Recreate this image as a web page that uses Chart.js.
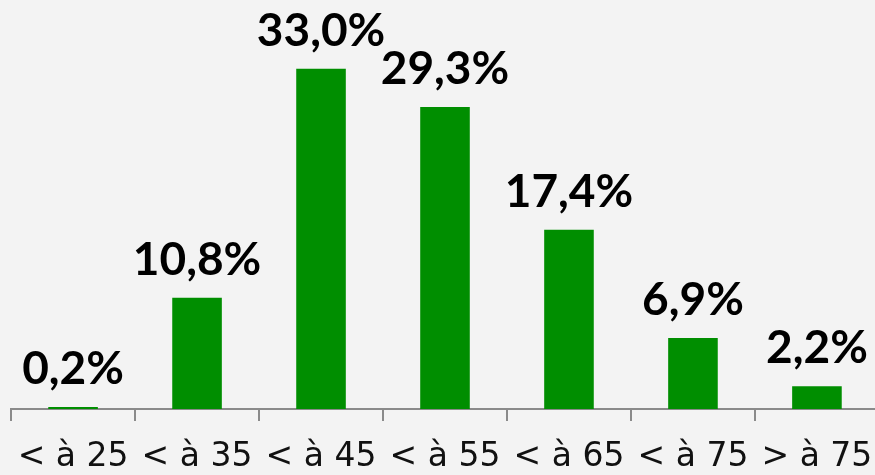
<!DOCTYPE html>
<html><head><meta charset="utf-8">
<script src="https://cdn.jsdelivr.net/npm/chart.js@4"></script>
<style>
html,body{margin:0;padding:0;background:#f3f3f3;overflow:hidden;width:875px;height:475px;}
#wrap{position:absolute;left:0;top:0;width:890px;height:475px;}
</style></head>
<body>
<div id="wrap"><canvas id="c" width="890" height="475"></canvas></div>
<script>
const categories = ["< à 25", "< à 35", "< à 45", "< à 55", "< à 65", "< à 75", "> à 75"];
const values = [0.2, 10.8, 33.0, 29.3, 17.4, 6.9, 2.2];
const yMax = 39;

const fmt = v => v.toFixed(1).replace('.', ',') + '%';

const labelPlugin = {
  id: 'valueLabels',
  afterDatasetsDraw(chart) {
    const ctx = chart.ctx;
    const meta = chart.getDatasetMeta(0);
    ctx.save();
    ctx.font = 'bold 46px Lato';
    ctx.fillStyle = '#000';
    ctx.textAlign = 'center';
    ctx.textBaseline = 'alphabetic';
    meta.data.forEach((bar, i) => {
      ctx.fillText(fmt(values[i]), bar.x, bar.y - 23);
    });
    ctx.restore();
  }
};

new Chart(document.getElementById('c'), {
  type: 'bar',
  data: {
    labels: categories,
    datasets: [{
      data: values,
      backgroundColor: '#008e00',
      borderWidth: 0,
      categoryPercentage: 1,
      barPercentage: 0.4
    }]
  },
  options: {
    responsive: false,
    animation: false,
    layout: { padding: { left: 11, right: 9, top: 7, bottom: 0 } },
    plugins: { legend: { display: false }, tooltip: { enabled: false } },
    scales: {
      y: { display: false, min: 0, max: yMax },
      x: {
        afterFit(scale) { scale.height = 66; },
        border: { display: true, color: '#8a8a8a', width: 2 },
        grid: { drawOnChartArea: false, drawTicks: true, tickLength: 12, color: '#8a8a8a', lineWidth: 2, offset: true },
        ticks: { color: '#111', font: { family: 'DejaVu Sans', size: 33 }, padding: 17, maxRotation: 0, autoSkip: false }
      }
    }
  },
  plugins: [labelPlugin]
});
</script>
</body></html>
